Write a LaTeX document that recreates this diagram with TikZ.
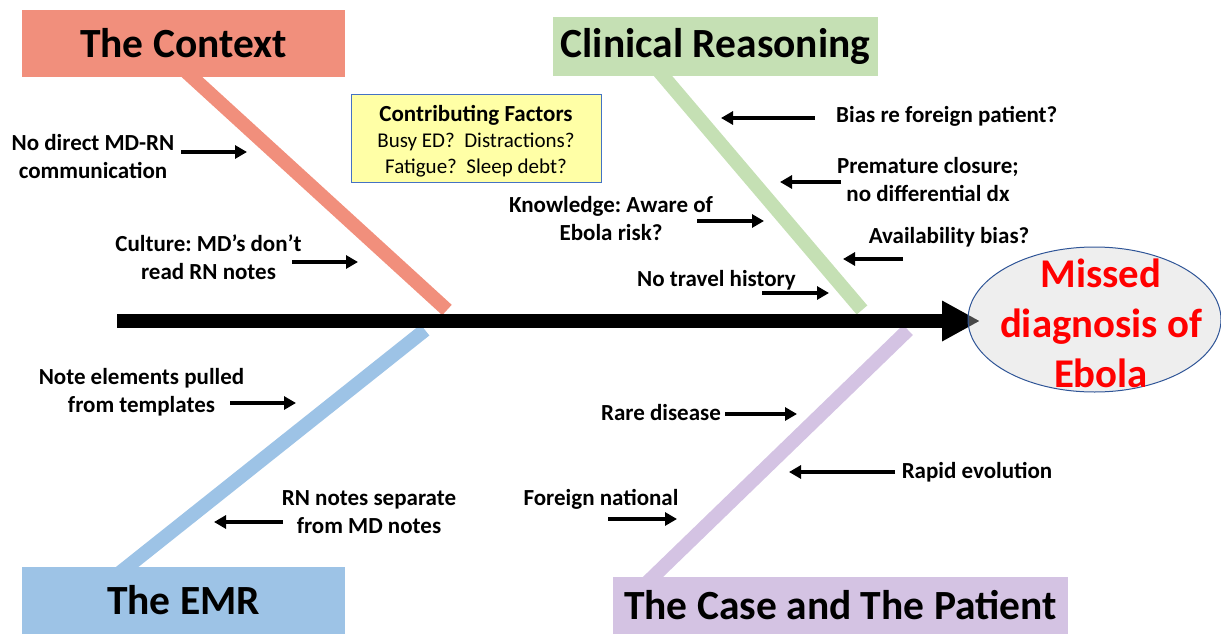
\documentclass[tikz,border=0pt]{standalone}
\usepackage{fontspec}
\setmainfont{Carlito}
\usetikzlibrary{arrows.meta,shapes.geometric}
\frenchspacing
\definecolor{ctxcol}{HTML}{F18F7C}
\definecolor{clincol}{HTML}{C5E0B4}
\definecolor{emrcol}{HTML}{9DC3E6}
\definecolor{casecol}{HTML}{D4C3E3}
\definecolor{yellowbox}{HTML}{FFFFA6}
\definecolor{bluebord}{HTML}{4472C4}
\definecolor{ellbord}{HTML}{2F5597}
\definecolor{ellfill}{HTML}{CECECE}
\definecolor{redtxt}{HTML}{FF0000}
\tikzset{
  titlebox/.style={inner sep=0pt, font=\bfseries\fontsize{41.5}{48}\selectfont},
  bone/.style={line width=14pt},
  spineline/.style={line width=14pt, -{Triangle[length=38pt,width=38pt]}},
  sarrow/.style={line width=4.5pt, -{Triangle[length=12pt,width=13pt]}},
  lbl/.style={font=\frenchspacing\bfseries\fontsize{23}{28}\selectfont, align=center, inner sep=0pt},
}
\begin{document}
\frenchspacing
\begin{tikzpicture}[x=1pt,y=-1pt]
\useasboundingbox (0,0) rectangle (1221,634);
% bones
\coordinate (ctxA) at (170,57);   \coordinate (ctxB) at (447,310);
\coordinate (clinA) at (646,56);  \coordinate (clinB) at (862,310);
\coordinate (emrA) at (102,587);  \coordinate (emrB) at (425,330);
\coordinate (caseA) at (639.5,590); \coordinate (caseB) at (908,330);
\draw[bone, draw=ctxcol] (ctxA) -- (ctxB);
\draw[bone, draw=clincol] (clinA) -- (clinB);
\draw[bone, draw=emrcol] (emrA) -- (emrB);
\draw[bone, draw=casecol] (caseA) -- (caseB);
% title boxes
\node[titlebox, fill=ctxcol, minimum width=323pt, minimum height=67pt] (ctx) at (183.5,43.5) {The Context};
\node[titlebox, fill=clincol, minimum width=325pt, minimum height=59pt] (clin) at (715.5,46.5) {Clinical Reasoning};
\node[titlebox, fill=emrcol, minimum width=323pt, minimum height=67pt] (emr) at (183.5,600.5) {The EMR};
\node[titlebox, fill=casecol, minimum width=455pt, minimum height=57pt] (case) at (840.5,605.5) {The Case and The Patient};
% spine and goal
\coordinate (spineS) at (117,321);
\coordinate (spineE) at (980,321);
\draw[spineline] (spineS) -- (spineE);
\node[ellipse, draw=ellbord, line width=1pt, fill=ellfill, fill opacity=0.35, minimum width=253pt, minimum height=145pt, inner sep=0pt] (goal) at (1094.5,319.5) {};
\node[font=\bfseries\fontsize{40.8}{50}\selectfont, text=redtxt, align=center, inner sep=0pt] (goaltxt) at (1101,323) {Missed\\diagnosis of\\Ebola};
% contributing factors
\node[draw=bluebord, line width=1pt, fill=yellowbox, minimum width=250pt, minimum height=88pt, inner sep=0pt] (contrib) at (476,138) {};
\node[align=center, inner sep=0pt, font=\fontsize{21}{26}\selectfont] (contribtxt) at (476,141) {{\bfseries\fontsize{23}{26}\selectfont Contributing Factors}\\Busy ED?\ \ Distractions?\\Fatigue?\ \ Sleep debt?};
% labels
\node[lbl] (nodirect) at (93,157) {No direct MD-RN\\communication};
\node[lbl] (culture) at (208.5,257.5) {Culture: MD’s don’t\\read RN notes};
\node[lbl, anchor=west] (bias) at (836,116) {Bias re foreign patient?};
\node[lbl] (premature) at (928,179.5) {Premature closure;\\no differential dx};
\node[lbl] (knowledge) at (611,219) {Knowledge: Aware of\\Ebola risk?};
\node[lbl] (avail) at (949,237) {Availability bias?};
\node[lbl] (notravel) at (716.5,280) {No travel history};
\node[lbl] (noteel) at (141.5,392.5) {Note elements pulled\\from templates};
\node[lbl] (rnnotes) at (369,512) {RN notes separate\\from MD notes};
\node[lbl] (rare) at (661,413) {Rare disease};
\node[lbl] (rapid) at (977,472) {Rapid evolution};
\node[lbl] (foreign) at (601,499) {Foreign national};
% small arrows
\coordinate (a1s) at (181,152);  \coordinate (a1e) at (247,152);
\coordinate (a2s) at (292,262);  \coordinate (a2e) at (358,262);
\coordinate (a3s) at (815,118);  \coordinate (a3e) at (721,118);
\coordinate (a4s) at (841,182);  \coordinate (a4e) at (780,182);
\coordinate (a5s) at (697,221);  \coordinate (a5e) at (764,221);
\coordinate (a6s) at (903,259);  \coordinate (a6e) at (843,259);
\coordinate (a7s) at (762,293);  \coordinate (a7e) at (829,293);
\coordinate (a8s) at (230,403);  \coordinate (a8e) at (296,403);
\coordinate (a9s) at (283,522);  \coordinate (a9e) at (214,522);
\coordinate (a10s) at (725,414); \coordinate (a10e) at (797,414);
\coordinate (a11s) at (895,472); \coordinate (a11e) at (789,472);
\coordinate (a12s) at (608,519); \coordinate (a12e) at (677,519);
\foreach \i in {1,...,12} {\draw[sarrow] (a\i s) -- (a\i e);}
\end{tikzpicture}
\end{document}
